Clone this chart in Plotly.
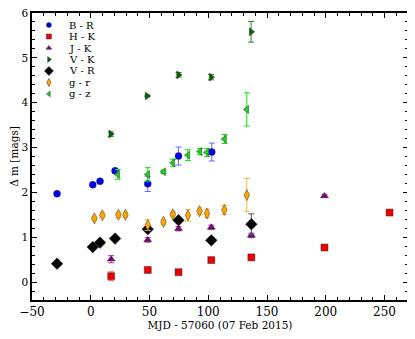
import plotly.graph_objects as go

# colour offsets, days since MJD 57060
br_x = [-28.7, 1.7, 7.9, 20.7, 48.5, 74.7, 103.0]
br_y = [1.97, 2.17, 2.25, 2.48, 2.19, 2.81, 2.90]
br_e = [0.03, 0.03, 0.03, 0.05, 0.17, 0.20, 0.20]

hk_x = [17.4, 48.5, 74.7, 102.6, 136.7, 198.9, 254.3]
hk_y = [0.13, 0.27, 0.22, 0.49, 0.55, 0.77, 1.55]
hk_e = [0.10, 0.03, 0.03, 0.03, 0.03, 0.03, 0.03]

jk_x = [17.4, 48.5, 74.7, 102.6, 136.7, 198.9]
jk_y = [0.51, 0.94, 1.19, 1.22, 1.04, 1.92]
jk_e = [0.08, 0.05, 0.05, 0.05, 0.05, 0.03]

vk_x = [17.0, 48.0, 74.7, 102.4, 136.5]
vk_y = [3.30, 4.15, 4.62, 4.57, 5.58]
vk_e = [0.05, 0.02, 0.05, 0.06, 0.23]

vr_x = [-28.7, 1.7, 7.9, 20.7, 48.5, 74.7, 102.6, 136.7]
vr_y = [0.41, 0.78, 0.88, 0.97, 1.18, 1.38, 0.93, 1.29]
vr_e = [0.03, 0.03, 0.03, 0.03, 0.05, 0.05, 0.05, 0.23]

gr_x = [3.1, 9.9, 23.5, 29.5, 48.5, 61.9, 69.9, 82.7, 92.6, 98.9, 113.7, 132.8]
gr_y = [1.42, 1.49, 1.50, 1.50, 1.27, 1.34, 1.51, 1.49, 1.58, 1.53, 1.61, 1.94]
gr_e = [0.05, 0.05, 0.06, 0.06, 0.12, 0.05, 0.06, 0.13, 0.07, 0.09, 0.10, 0.37]

gz_x = [23.0, 48.5, 62.0, 69.9, 82.7, 93.0, 98.9, 113.9, 132.8]
gz_y = [2.40, 2.40, 2.46, 2.66, 2.83, 2.91, 2.89, 3.19, 3.85]
gz_e = [0.11, 0.15, 0.04, 0.08, 0.12, 0.07, 0.09, 0.10, 0.37]

series = [
    ("B - R", br_x, br_y, br_e, "circle", "#0000ee", "#6666ff", 7),
    ("H - K", hk_x, hk_y, hk_e, "square", "#ee0000", "#ff6666", 7),
    ("J - K", jk_x, jk_y, jk_e, "triangle-up", "#800080", "#a040a0", 7),
    ("V - K", vk_x, vk_y, vk_e, "triangle-right", "#006400", "#228b22", 7),
    ("V - R", vr_x, vr_y, vr_e, "diamond", "#000000", "#555555", 9),
    ("g - r", gr_x, gr_y, gr_e, "diamond-tall", "#ffa500", "#ffb733", 8),
    ("g - z", gz_x, gz_y, gz_e, "triangle-left", "#22cc22", "#00ee00", 7),
]

font = "DejaVu Serif"
fig = go.Figure()
for name, x, y, e, sym, col, ecol, size in series:
    fig.add_trace(go.Scatter(
        x=x, y=y, mode="markers", name=name, showlegend=False,
        marker=dict(symbol=sym, color=col, size=size,
                    line=dict(color="#333333", width=0.5)),
        error_y=dict(type="data", array=e, color=ecol, thickness=1, width=3),
    ))

# compact legend drawn on a hidden overlay axis (matplotlib-like spacing)
for i, (name, x, y, e, sym, col, ecol, size) in enumerate(series):
    ly = 0.958 - 0.04 * i
    fig.add_trace(go.Scatter(
        x=[0.045], y=[ly], mode="markers", xaxis="x2", yaxis="y2",
        showlegend=False, hoverinfo="skip",
        marker=dict(symbol=sym, color=col, size=max(size - 2, 5),
                    line=dict(color="#333333", width=0.5)),
    ))
    fig.add_annotation(x=0.092, y=ly, xref="paper", yref="paper",
                       text=name, showarrow=False, xanchor="left",
                       yanchor="middle",
                       font=dict(family=font, size=10, color="black"))

axis = dict(
    showgrid=False, zeroline=False, showline=True, linecolor="black",
    linewidth=1.5, mirror="allticks", ticks="inside", ticklen=5,
    tickwidth=1.2, tickcolor="black", automargin=False,
    ticklabeloverflow="allow",
)
fig.update_xaxes(axis, range=[-50, 270], dtick=50, tick0=0,
                 tickfont=dict(family=font, size=12, color="black"),
                 minor=dict(dtick=10, ticks="inside", ticklen=3,
                            tickcolor="black"),
                 title=dict(text="MJD - 57060 (07 Feb 2015)", standoff=2,
                            font=dict(family=font, size=10.5, color="black")))
fig.update_yaxes(axis, range=[-0.4, 6], dtick=1, tick0=0,
                 tickfont=dict(family=font, size=10.5, color="black"),
                 minor=dict(dtick=0.2, ticks="inside", ticklen=3,
                            tickcolor="black"),
                 title=dict(text="Δ m [mags]", standoff=2,
                            font=dict(family=font, size=10.5, color="black")))
# page body has an 8px margin, so the figure is trimmed to fit the window
fig.update_layout(
    width=407, height=331,
    margin=dict(l=24, r=7, t=5, b=39),
    plot_bgcolor="white", paper_bgcolor="white",
    showlegend=False,
    xaxis2=dict(overlaying="x", range=[0, 1], visible=False),
    yaxis2=dict(overlaying="y", range=[0, 1], visible=False),
)
fig.write_html("out.html")
